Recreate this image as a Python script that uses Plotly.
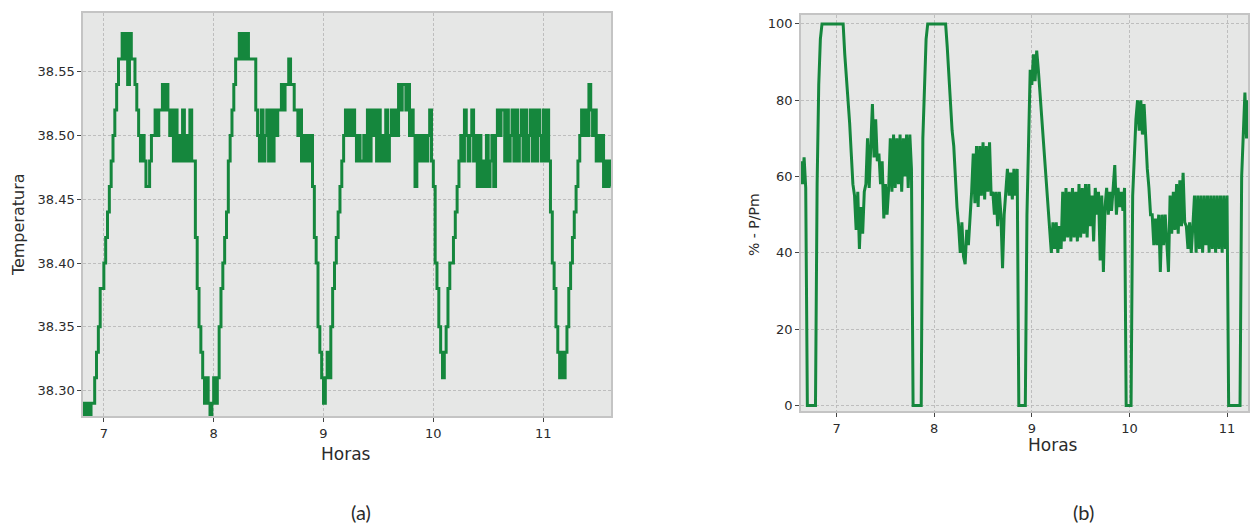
import plotly.graph_objects as go

# ---------------- data (1-minute sampling) ----------------
# (a) temperature, first sample at 6:48 (minute 408 of the day)
temp_start_minute = 408
temperatura = [
    38.27, 38.29, 38.27, 38.29, 38.27, 38.29, 38.29, 38.31, 38.33, 38.35,
    38.38, 38.38, 38.40, 38.42, 38.44, 38.46, 38.48, 38.50, 38.52, 38.54,
    38.56, 38.56, 38.58, 38.56, 38.58, 38.54, 38.58, 38.56, 38.56, 38.54,
    38.52, 38.50, 38.48, 38.50, 38.48, 38.46, 38.46, 38.48, 38.50, 38.50,
    38.52, 38.50, 38.52, 38.52, 38.54, 38.52, 38.54, 38.52, 38.50, 38.52,
    38.48, 38.52, 38.48, 38.50, 38.48, 38.52, 38.48, 38.50, 38.48, 38.52,
    38.48, 38.48, 38.42, 38.38, 38.35, 38.33, 38.31, 38.29, 38.31, 38.29,
    38.27, 38.29, 38.31, 38.29, 38.31, 38.35, 38.38, 38.40, 38.42, 38.44,
    38.48, 38.50, 38.52, 38.54, 38.56, 38.56, 38.58, 38.56, 38.58, 38.56,
    38.58, 38.56, 38.56, 38.56, 38.56, 38.52, 38.50, 38.48, 38.52, 38.48,
    38.50, 38.52, 38.48, 38.52, 38.48, 38.52, 38.50, 38.52, 38.52, 38.54,
    38.52, 38.54, 38.54, 38.56, 38.54, 38.54, 38.52, 38.52, 38.50, 38.52,
    38.48, 38.50, 38.48, 38.50, 38.48, 38.50, 38.46, 38.42, 38.40, 38.35,
    38.33, 38.31, 38.29, 38.31, 38.33, 38.31, 38.35, 38.38, 38.40, 38.42,
    38.44, 38.46, 38.48, 38.50, 38.52, 38.50, 38.52, 38.50, 38.52, 38.50,
    38.48, 38.50, 38.48, 38.48, 38.50, 38.48, 38.52, 38.48, 38.52, 38.50,
    38.52, 38.48, 38.52, 38.48, 38.50, 38.48, 38.52, 38.48, 38.50, 38.52,
    38.50, 38.52, 38.50, 38.54, 38.52, 38.54, 38.54, 38.52, 38.54, 38.50,
    38.52, 38.50, 38.46, 38.50, 38.48, 38.50, 38.48, 38.50, 38.48, 38.50,
    38.52, 38.48, 38.46, 38.40, 38.38, 38.35, 38.33, 38.31, 38.33, 38.35,
    38.38, 38.40, 38.40, 38.42, 38.44, 38.46, 38.48, 38.50, 38.48, 38.52,
    38.50, 38.48, 38.50, 38.52, 38.48, 38.50, 38.46, 38.50, 38.46, 38.48,
    38.46, 38.50, 38.46, 38.48, 38.50, 38.46, 38.50, 38.52, 38.50, 38.52,
    38.52, 38.48, 38.52, 38.48, 38.50, 38.52, 38.48, 38.52, 38.48, 38.50,
    38.52, 38.48, 38.52, 38.48, 38.50, 38.52, 38.48, 38.52, 38.48, 38.52,
    38.50, 38.48, 38.52, 38.48, 38.52, 38.48, 38.44, 38.40, 38.38, 38.35,
    38.33, 38.31, 38.33, 38.31, 38.33, 38.35, 38.38, 38.40, 38.42, 38.44,
    38.46, 38.48, 38.50, 38.52, 38.50, 38.52, 38.50, 38.54, 38.52, 38.50,
    38.52, 38.48, 38.50, 38.48, 38.50, 38.46, 38.48, 38.46, 38.48, 38.46,
]

# (b) % - P/Pm, first sample at minute 398 of the day
power_start_minute = 398
potencia = [
    64, 58, 65, 57, 0, 0, 0, 0, 0, 0,
    58, 84, 96, 100, 100, 100, 100, 100, 100, 100,
    100, 100, 100, 100, 100, 100, 100, 92, 86, 81,
    74, 66, 58, 55, 46, 56, 41, 52, 45, 56,
    58, 70, 57, 68, 79, 65, 75, 64, 66, 58,
    64, 49, 58, 50, 57, 70, 56, 71, 57, 70,
    58, 71, 56, 70, 60, 71, 57, 71, 62, 0,
    0, 0, 0, 0, 0, 70, 86, 96, 100, 100,
    100, 100, 100, 100, 100, 100, 100, 100, 100, 100,
    94, 86, 78, 72, 68, 58, 52, 47, 40, 48,
    39, 37, 46, 42, 48, 56, 66, 53, 68, 52,
    68, 55, 69, 54, 68, 56, 69, 55, 56, 50,
    56, 47, 56, 50, 36, 50, 56, 62, 55, 61,
    54, 62, 55, 62, 0, 0, 0, 0, 0, 50,
    71, 88, 84, 92, 85, 93, 88, 82, 77, 70,
    66, 60, 54, 48, 40, 48, 41, 48, 40, 47,
    41, 56, 43, 57, 44, 56, 43, 57, 44, 56,
    43, 58, 44, 57, 45, 58, 44, 58, 47, 55,
    43, 57, 50, 56, 38, 55, 35, 52, 57, 50,
    56, 51, 57, 63, 50, 57, 52, 56, 51, 57,
    0, 0, 0, 0, 55, 67, 75, 80, 72, 80,
    71, 79, 70, 62, 57, 50, 50, 42, 49, 42,
    50, 35, 50, 42, 50, 43, 35, 55, 45, 56,
    46, 58, 45, 59, 47, 61, 48, 47, 41, 48,
    40, 47, 55, 40, 55, 41, 55, 40, 55, 42,
    55, 40, 55, 41, 55, 40, 55, 41, 55, 40,
    55, 41, 55, 0, 0, 0, 0, 0, 0, 0,
    0, 60, 72, 82, 70, 80,
]

x_ticks = [7, 8, 9, 10, 11]
temp_ticks = [38.30, 38.35, 38.40, 38.45, 38.50, 38.55]
power_ticks = [0, 20, 40, 60, 80, 100]

temp_hours = [(temp_start_minute + i) / 60 for i in range(len(temperatura))]
power_hours = [(power_start_minute + i) / 60 for i in range(len(potencia))]

# ---------------- figure ----------------
W, H = 1250, 525
GREEN = "#15873d"
BG = "#e6e7e6"
GRID = "#b4b4b4"
FRAME = "#c4c4c4"
TXT = "#2b2b2b"

fig = go.Figure()
fig.add_trace(go.Scatter(x=temp_hours, y=temperatura, mode="lines",
                         line=dict(color=GREEN, width=3, shape="hv"), xaxis="x", yaxis="y",
                         showlegend=False, hoverinfo="skip"))
fig.add_trace(go.Scatter(x=power_hours, y=potencia, mode="lines",
                         line=dict(color=GREEN, width=3), xaxis="x2", yaxis="y2",
                         showlegend=False, hoverinfo="skip"))

def px_x(p):
    return p / W

def px_y(p):
    return 1 - p / H

axis_common = dict(
    showgrid=True, gridcolor=GRID, gridwidth=0.8, griddash="3px,2px",
    showline=True, linecolor=FRAME, linewidth=1.5, mirror=True,
    ticks="outside", ticklen=4, tickwidth=1, tickcolor="#444",
    tickfont=dict(family="DejaVu Sans", size=13, color=TXT),
    zeroline=False, fixedrange=True,
)

fig.update_layout(
    width=W, height=H, autosize=False,
    margin=dict(l=0, r=0, t=0, b=0),
    paper_bgcolor="white", plot_bgcolor=BG,
    xaxis=dict(domain=[px_x(83), px_x(612)], range=[6.809, 11.618],
               tickvals=x_ticks, anchor="y", **axis_common),
    yaxis=dict(domain=[px_y(418), px_y(13)], range=[38.2797, 38.5961],
               tickvals=temp_ticks, tickformat=".2f", anchor="x", **axis_common),
    xaxis2=dict(domain=[px_x(802), 1.0], range=[6.632, 11.215],
                tickvals=x_ticks, anchor="y2", **axis_common),
    yaxis2=dict(domain=[px_y(413), px_y(15)], range=[-1.57, 102.35],
                tickvals=power_ticks, anchor="x2", **axis_common),
)

def label(text, x, y, size, angle=0, family="DejaVu Sans"):
    fig.add_annotation(text=text, x=px_x(x), y=px_y(y), xref="paper", yref="paper",
                       showarrow=False, textangle=angle, xanchor="center", yanchor="middle",
                       font=dict(family=family, size=size, color=TXT))

label("Temperatura", 18, 225, 16, -90)
label("Horas", 347, 456, 17)
label("% - P/Pm", 755, 225, 14, -90)
label("Horas", 1055, 447, 17)
label("(a)", 362, 514, 20, family="Lato")
label("(b)", 1085, 514, 20, family="Lato")

fig.write_html(
    "out.html",
    config={"displayModeBar": False, "staticPlot": True},
    post_script="document.body.style.margin='0';document.body.style.overflow='hidden';",
)
